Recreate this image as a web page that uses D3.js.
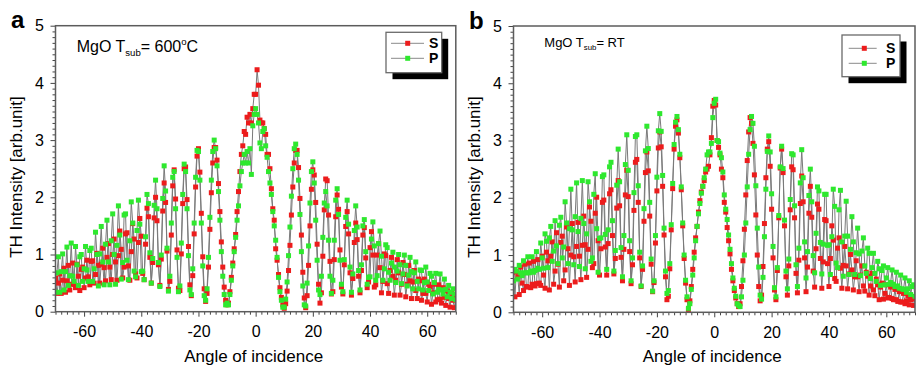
<!DOCTYPE html>
<html>
<head>
<meta charset="utf-8">
<script src="https://cdn.jsdelivr.net/npm/d3@7"></script>
<style>
  body { margin: 0; background: #fff; }
  svg { display: block; font-family: Arial, "Liberation Sans", sans-serif; }
</style>
</head>
<body>
<svg id="drawing_region"></svg>
<script>
// scan angles (deg), one sample every 0.5 deg
const angles = d3.range(-70, 70.25, 0.5);
const xDomain = [-70, 70];
const yDomain = [0, 5];
const xTicks = [-60, -40, -20, 0, 20, 40, 60];
const yTicks = [0, 1, 2, 3, 4, 5];
const seriesNames = ['S', 'P'];

// panel a : MgO Tsub = 600C
const sA = [
0.58,0.32,0.50,0.66,0.32,0.55,0.76,0.34,0.54,0.81,
0.38,0.48,0.85,0.48,0.42,0.83,0.62,0.37,0.74,0.78,
0.42,0.59,0.90,0.61,0.47,0.88,0.89,0.50,0.65,1.02,
0.81,0.50,0.83,1.11,0.77,0.54,0.95,1.19,0.78,0.56,
1.00,1.27,0.87,0.55,0.98,1.41,1.09,0.59,0.78,1.36,
1.38,0.80,0.55,1.05,1.54,1.27,0.66,0.59,1.21,1.63,
1.32,0.67,0.56,1.18,1.81,1.66,0.95,0.50,0.86,1.64,
2.00,1.59,0.82,0.46,0.92,1.76,2.25,1.91,1.06,0.39,
0.53,1.34,2.20,2.48,1.97,1.08,0.41,0.37,1.01,1.89,
2.50,2.53,1.96,1.14,0.47,0.28,0.63,1.36,2.18,2.72,
2.85,2.44,1.72,0.96,0.40,0.18,0.32,0.78,1.44,2.08,
2.60,2.87,2.87,2.65,2.24,1.75,1.22,0.78,0.43,0.20,
0.12,
0.15,0.35,0.60,0.85,1.10,1.35,1.75,2.10,2.45,2.75,
2.90,3.15,3.10,3.40,3.30,3.45,3.30,3.55,3.80,3.80,
4.23,3.96,3.35,3.30,3.30,3.20,3.10,2.75,2.75,2.50,
2.15,1.80,1.60,1.10,0.90,0.65,0.42,0.25,0.12,
0.06,0.14,0.36,0.72,1.16,1.69,2.18,2.60,2.82,2.82,
2.52,1.98,1.34,0.69,0.24,0.07,0.28,0.81,1.50,2.14,
2.48,2.39,1.91,1.18,0.48,0.15,0.33,0.97,1.78,2.32,
2.29,1.69,0.88,0.31,0.35,0.91,1.66,2.04,1.79,1.08,
0.43,0.31,0.82,1.49,1.75,1.36,0.68,0.29,0.58,1.21,
1.55,1.26,0.62,0.33,0.72,1.34,1.47,0.94,0.42,0.52,
1.12,1.40,0.99,0.43,0.47,0.99,1.19,0.77,0.33,0.53,
1.01,0.98,0.49,0.32,0.72,0.95,0.62,0.29,0.55,0.91,
0.68,0.29,0.48,0.86,0.65,0.26,0.48,0.81,0.54,0.23,
0.52,0.72,0.37,0.23,0.57,0.54,0.20,0.32,0.57,0.32,
0.17,0.48,0.43,0.13,0.33,0.48,0.17,0.21,0.47,0.22,
0.15,0.42,0.25,0.11,0.36,0.23,0.08,0.32,0.20,0.07,
0.28
];
const pA = [
0.34,0.68,0.96,0.34,0.70,1.01,0.38,0.70,1.13,0.46,
0.63,1.20,0.62,0.53,1.14,0.82,0.46,0.96,1.00,0.53,
0.75,1.14,0.73,0.53,1.07,1.11,0.53,0.75,1.39,1.00,
0.45,1.01,1.49,0.87,0.47,1.18,1.60,0.87,0.47,1.24,
1.71,1.00,0.48,1.16,1.85,1.34,0.57,0.86,1.69,1.71,
0.90,0.56,1.24,1.92,1.55,0.71,0.61,1.42,1.95,1.53,
0.70,0.71,0.56,1.31,2.05,1.89,1.03,0.50,0.93,1.86,
2.30,1.80,0.86,0.44,0.99,1.98,2.55,2.11,1.11,0.36,
0.62,1.55,2.35,2.45,1.80,0.95,0.35,0.45,1.20,2.05,
2.58,2.45,1.80,0.98,0.38,0.30,0.75,1.55,2.35,2.82,
2.80,2.30,1.55,0.80,0.28,0.20,0.40,0.95,1.65,2.30,
2.80,3.00,2.85,2.55,2.10,1.60,1.05,0.62,0.30,0.12,
0.15,
0.12,0.30,0.55,0.80,1.05,1.30,1.60,1.85,2.20,2.45,
2.60,2.75,2.60,2.80,2.60,2.85,2.40,3.25,3.45,3.55,
3.45,3.30,2.95,2.85,3.15,3.20,2.90,2.70,2.45,2.25,
2.05,1.75,1.50,1.25,0.95,0.60,0.35,0.20,0.08,
0.08,0.22,0.52,0.98,1.48,2.02,2.50,2.85,2.93,2.75,
2.30,1.70,1.05,0.45,0.12,0.10,0.50,1.15,1.90,2.45,
2.62,2.25,1.60,0.90,0.38,0.30,0.62,1.30,1.90,2.10,
1.85,1.25,0.62,0.32,0.55,1.25,1.95,2.15,1.70,0.90,
0.48,0.35,0.91,1.65,1.95,1.53,0.78,0.34,0.66,1.42,
1.85,1.48,0.72,0.38,0.82,1.50,1.61,1.05,0.48,0.60,
0.61,1.27,1.57,1.15,0.55,0.63,1.19,1.41,0.97,0.55,
0.75,1.17,1.12,0.69,0.55,0.85,1.04,0.78,0.51,0.71,
1.00,0.82,0.49,0.66,0.99,0.81,0.45,0.64,0.95,0.70,
0.40,0.68,0.87,0.53,0.40,0.73,0.72,0.38,0.51,0.78,
0.52,0.37,0.67,0.62,0.31,0.51,0.67,0.34,0.39,0.66,
0.38,0.31,0.57,0.39,0.26,0.46,0.34,0.23,0.40,0.31,
0.21
];

// panel b : MgO Tsub = RT
const sB = [
0.73,0.27,0.70,0.61,0.31,0.79,0.51,0.38,0.84,0.45,
0.44,0.86,0.43,0.49,0.89,0.46,0.50,0.92,0.51,0.47,
0.98,0.65,0.42,1.05,0.90,0.39,0.98,1.23,0.49,0.72,
1.39,0.84,0.44,1.22,1.33,0.55,0.74,1.49,1.11,0.47,
1.00,1.55,0.97,0.53,1.15,1.57,0.98,0.57,1.17,1.68,
1.18,0.61,1.10,1.84,1.59,0.78,0.85,1.73,2.01,1.25,
0.65,1.11,1.92,1.96,1.14,0.65,1.20,2.07,2.14,1.34,
0.67,0.94,1.82,2.30,1.86,0.96,0.55,1.10,2.05,2.48,
2.02,1.06,0.50,0.83,1.78,2.62,2.67,1.92,0.95,0.45,
0.75,1.59,2.44,2.80,2.47,1.68,0.84,0.36,0.52,1.21,
2.12,2.87,3.15,2.89,2.20,1.35,0.62,0.22,0.28,0.76,
1.44,2.16,2.85,3.25,3.36,3.13,2.70,2.14,1.51,0.94,
0.51,0.22,0.05,
0.20,0.45,0.75,1.05,1.30,1.50,1.75,1.95,2.10,2.20,
2.30,2.45,2.50,2.55,2.75,3.05,3.60,3.70,3.62,3.00,
2.88,2.75,2.50,2.35,1.92,1.75,1.48,1.25,1.02,0.75,
0.55,0.38,0.25,0.15,0.10,
0.15,0.45,0.90,1.45,2.05,2.65,3.15,3.40,3.30,2.95,
2.40,1.70,1.00,0.45,0.20,0.30,0.80,1.55,2.35,2.85,
2.98,2.55,1.80,0.95,0.39,0.22,0.73,1.65,2.52,2.85,
2.44,1.51,0.62,0.30,0.81,1.79,2.54,2.49,1.65,0.68,
0.34,0.91,1.90,2.38,1.93,0.95,0.36,0.79,1.73,2.20,
1.66,0.72,0.44,1.11,1.89,1.80,0.94,0.42,0.88,1.62,
1.60,0.85,0.45,0.94,1.51,1.26,0.59,0.54,1.12,1.30,
0.77,0.42,0.82,1.15,0.81,0.41,0.67,1.01,0.74,0.39,
0.62,0.90,0.62,0.36,0.65,0.81,0.46,0.37,0.70,0.63,
0.30,0.46,0.68,0.39,0.29,0.58,0.48,0.22,0.44,0.51,
0.23,0.33,0.48,0.25,0.26,0.44,0.24,0.22,0.40,0.22,
0.19,0.36,0.18,0.18,0.33,0.15,0.20,0.29,0.13,0.22,
0.24,0.12,0.23
];
const pB = [
0.55,0.75,0.72,0.58,0.82,0.69,0.64,0.90,0.69,0.69,
0.97,0.69,0.72,0.97,0.70,0.73,1.06,0.77,0.75,1.21,
0.95,0.77,1.37,1.24,0.78,1.30,1.50,0.89,1.07,1.60,
1.16,0.85,1.52,1.66,0.95,1.14,1.93,1.56,0.85,1.46,
2.15,1.44,0.83,1.67,2.26,1.41,0.80,1.64,2.30,1.55,
0.76,1.37,2.28,1.93,0.89,0.95,2.06,2.42,1.46,0.70,
1.29,1.30,2.37,2.40,1.36,0.75,1.44,2.54,2.62,1.60,
0.72,1.08,2.22,2.85,2.28,1.13,0.62,1.34,2.58,3.10,
2.48,1.25,0.55,0.95,2.09,3.07,3.10,2.21,1.05,0.46,
0.81,1.81,2.82,3.25,2.86,1.92,0.93,0.37,0.55,1.34,
2.36,3.17,3.47,3.16,2.39,1.47,0.72,0.33,0.38,0.85,
1.53,2.25,2.93,3.32,3.42,3.19,2.76,2.19,1.56,1.00,
0.56,0.27,0.07,
0.15,0.40,0.65,0.95,1.25,1.50,1.72,1.90,2.08,2.20,
2.35,2.50,2.75,2.80,2.80,2.95,3.40,3.65,3.72,3.00,
2.98,2.78,2.70,2.45,2.05,1.80,1.62,1.35,1.10,0.85,
0.60,0.42,0.28,0.15,0.12,
0.10,0.27,0.56,1.00,1.56,2.19,2.76,3.19,3.42,3.30,
2.90,2.21,1.47,0.79,0.30,0.23,0.61,1.32,2.15,2.81,
3.08,2.80,2.07,1.15,0.43,0.27,0.78,1.69,2.54,2.90,
2.51,1.61,0.72,0.41,0.93,1.97,2.77,2.75,1.86,0.83,
0.45,1.12,2.26,2.84,2.35,1.23,0.60,1.06,2.04,2.50,
1.93,0.99,0.69,1.38,2.19,2.12,1.22,0.67,1.19,2.06,
2.06,1.17,1.18,0.66,1.32,2.15,1.85,0.86,0.78,1.79,
2.13,1.23,0.63,1.33,1.94,1.33,0.66,1.10,1.67,1.23,
0.66,1.04,1.47,1.02,0.64,1.07,1.30,0.81,0.68,1.12,
1.03,0.59,0.78,1.03,0.68,0.54,0.89,0.76,0.47,0.73,
0.81,0.48,0.60,0.78,0.49,0.52,0.74,0.49,0.45,0.70,
0.46,0.42,0.65,0.41,0.40,0.60,0.35,0.41,0.55,0.31,
0.45,0.48,0.28
];

const colors = { S: '#ec1c1c', P: '#2ee82e' };

class THPlot {

    constructor( config, data ) {
        this.config = config;
        this.data = data;
        this.init();
    }

    init() {
        let self = this;
        const c = self.config;

        self.svg = d3.select( c.parent );

        self.chart = self.svg.append('g')
            .attr('transform', `translate(${c.left}, ${c.top})`);

        self.xscale = d3.scaleLinear()
            .domain( xDomain )
            .range( [0, c.width] );

        self.yscale = d3.scaleLinear()
            .domain( yDomain )
            .range( [c.height, 0] );

        // plain hyphen for negative labels, like the original figure
        const plain = d => String(d);

        self.xaxis = d3.axisBottom( self.xscale )
            .tickValues( xTicks )
            .tickFormat( plain )
            .tickSize(5)
            .tickSizeOuter(0)
            .tickPadding(9);

        self.xminor = d3.axisBottom( self.xscale )
            .tickValues( d3.range(-70, 71, 2).filter(d => d % 20 !== 0) )
            .tickSize(3)
            .tickSizeOuter(0)
            .tickFormat('');

        self.yaxis = d3.axisLeft( self.yscale )
            .tickValues( yTicks )
            .tickFormat( plain )
            .tickSize(5)
            .tickSizeOuter(0)
            .tickPadding(6.5);

        self.yminor = d3.axisLeft( self.yscale )
            .tickValues( d3.range(0, 51).filter(i => i % 10 !== 0).map(i => i / 10) )
            .tickSize(3)
            .tickSizeOuter(0)
            .tickFormat('');

        self.clip_id = 'clip-' + c.name;
        self.chart.append('clipPath')
            .attr('id', self.clip_id)
            .append('rect')
            .attr('width', c.width)
            .attr('height', c.height);

        self.marks = self.chart.append('g')
            .attr('clip-path', `url(#${self.clip_id})`);

        // panel letter
        self.svg.append('text')
            .attr('x', c.left - 44.5)
            .attr('y', c.top + 2.5)
            .style('font-size', '24px')
            .style('font-weight', 'bold')
            .text( c.name );

        // axis titles
        self.svg.append('text')
            .attr('x', c.left + c.width / 2 - 2)
            .attr('y', 362)
            .attr('text-anchor', 'middle')
            .style('font-size', '17px')
            .text('Angle of incidence');

        self.svg.append('text')
            .attr('transform', `translate(${c.left - 33.5}, 177) rotate(-90)`)
            .attr('text-anchor', 'middle')
            .style('font-size', '17px')
            .text('TH Intensity [arb.unit]');

        // sample label: MgO T_sub = ...
        const fs = c.note.size;
        const note = self.svg.append('text')
            .attr('x', c.note.x)
            .attr('y', c.note.y)
            .style('font-size', fs + 'px');
        note.append('tspan').text('MgO T');
        note.append('tspan').attr('dy', fs * 0.28).style('font-size', (fs * 0.6) + 'px').text('sub');
        note.append('tspan').attr('dy', -fs * 0.28).text(c.note.main);
        if ( c.note.sup ) {
            note.append('tspan').attr('dy', -fs * 0.42).style('font-size', (fs * 0.6) + 'px').text(c.note.sup);
            note.append('tspan').attr('dy', fs * 0.42).text(c.note.tail);
        }
    }

    render() {
        let self = this;
        const c = self.config;
        const ms = 5;

        const line = d3.line()
            .x( (d, i) => self.xscale( angles[i] ) )
            .y( d => self.yscale( d ) );

        self.marks.selectAll('path.trace')
            .data( self.data )
            .enter()
            .append('path')
            .attr('class', 'trace')
            .attr('d', d => line( d.values ))
            .attr('fill', 'none')
            .attr('stroke', '#7a7a7a')
            .attr('stroke-width', 1);

        self.data.forEach( s => {
            self.marks.append('g')
                .selectAll('rect')
                .data( s.values )
                .enter()
                .append('rect')
                .attr('x', (d, i) => self.xscale( angles[i] ) - ms / 2)
                .attr('y', d => self.yscale( d ) - ms / 2)
                .attr('width', ms)
                .attr('height', ms)
                .attr('fill', colors[ s.name ]);
        });

        const styleAxis = g => {
            g.select('.domain').remove();
            g.selectAll('line').attr('stroke', '#444').attr('stroke-width', 1);
            g.selectAll('text').attr('fill', '#000').style('font-size', '16px');
        };

        self.chart.append('g')
            .attr('transform', `translate(0, ${c.height})`)
            .call( self.xminor ).call( styleAxis );
        self.chart.append('g')
            .attr('transform', `translate(0, ${c.height})`)
            .call( self.xaxis ).call( styleAxis );
        self.chart.append('g').call( self.yminor ).call( styleAxis );
        self.chart.append('g').call( self.yaxis ).call( styleAxis );

        self.chart.append('rect')
            .attr('width', c.width)
            .attr('height', c.height)
            .attr('fill', 'none')
            .attr('stroke', '#5c5c5c')
            .attr('stroke-width', 1.5);

        // legend with drop shadow
        const L = c.legend;
        const lg = self.svg.append('g')
            .attr('transform', `translate(${L.x}, ${L.y})`);
        lg.append('rect')
            .attr('x', 6.5).attr('y', 6.5)
            .attr('width', L.w).attr('height', L.h)
            .attr('fill', '#000');
        lg.append('rect')
            .attr('width', L.w).attr('height', L.h)
            .attr('fill', '#fff')
            .attr('stroke', '#6a6a6a')
            .attr('stroke-width', 1.3);
        seriesNames.forEach( (name, i) => {
            const y = L.row0 + i * 15;
            lg.append('line')
                .attr('x1', L.lx0).attr('x2', L.lx1)
                .attr('y1', y).attr('y2', y)
                .attr('stroke', '#8a8a8a');
            lg.append('rect')
                .attr('x', L.mx - ms / 2).attr('y', y - ms / 2)
                .attr('width', ms).attr('height', ms)
                .attr('fill', colors[ name ]);
            lg.append('text')
                .attr('x', L.tx).attr('y', y + 5)
                .style('font-size', '14px')
                .style('font-weight', 'bold')
                .text( name );
        });
    }
}

d3.select('#drawing_region')
    .attr('width', 916)
    .attr('height', 367);

const plotA = new THPlot({
    parent: '#drawing_region', name: 'a',
    left: 55.5, top: 25.7, width: 400.3, height: 286,
    note: { x: 76.7, y: 51.7, size: 16, main: '= 600', sup: 'o', tail: 'C' },
    legend: { x: 386, y: 32.3, w: 55.7, h: 40.4, row0: 11, lx0: 5, lx1: 38, mx: 21.7, tx: 43 }
}, [ { name: 'S', values: sA }, { name: 'P', values: pA } ]);
plotA.render();

const plotB = new THPlot({
    parent: '#drawing_region', name: 'b',
    left: 513.5, top: 26, width: 401.5, height: 286.3,
    note: { x: 544.3, y: 46.7, size: 13, main: '= RT' },
    legend: { x: 842, y: 35, w: 58, h: 41.7, row0: 13.3, lx0: 6.7, lx1: 34.7, mx: 22.3, tx: 44 }
}, [ { name: 'S', values: sB }, { name: 'P', values: pB } ]);
plotB.render();
</script>
</body>
</html>
